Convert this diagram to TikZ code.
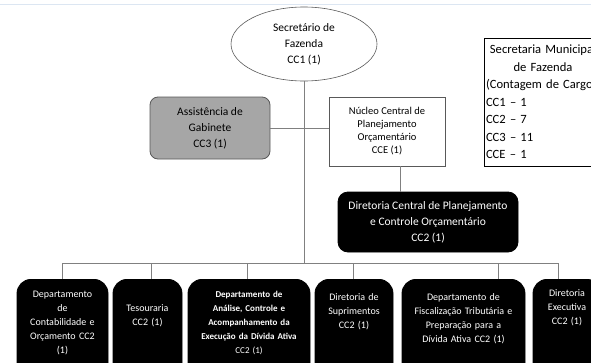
\documentclass[tikz,border=0pt]{standalone}
\usepackage{fontspec}
\setmainfont{Carlito}
\definecolor{linegrey}{RGB}{128,128,128}
\definecolor{boxgrey}{RGB}{166,166,166}
\definecolor{edgegrey}{RGB}{89,89,89}
\definecolor{topblue}{RGB}{220,230,242}
\usetikzlibrary{shapes.geometric}
\tikzstyle{base}=[x=1pt, y=-1pt, line width=0.8pt]
\tikzstyle{wire}=[linegrey]
\tikzstyle{mainfont}=[font=\fontsize{11.5}{16}\selectfont]
\tikzstyle{greybox}=[mainfont, fill=boxgrey, draw=edgegrey, rounded corners=8pt, align=center, minimum width=120pt, minimum height=62pt]
\tikzstyle{plainbox}=[font=\fontsize{10.5}{13}\selectfont, draw=edgegrey, align=center, minimum width=116pt, minimum height=69pt]
\tikzstyle{darkbox}=[mainfont, fill=black, draw=black, text=white, rounded corners=10pt, align=center]
\tikzstyle{lowbox}=[darkbox, rounded corners=14pt, anchor=north, inner xsep=0pt, inner ysep=0pt, text depth=100pt, font=\fontsize{10}{13.8}\selectfont]
\tikzstyle{legendbox}=[draw=black, font=\fontsize{12.6}{17.5}\selectfont, text width=114pt, inner xsep=2pt, minimum height=128pt]

\begin{document}
\begin{tikzpicture}[base]
    \useasboundingbox (0,0) rectangle (591,362);
    \clip (0,0) rectangle (591,362);
    \draw [topblue] (0,4) -- (591,4);

    % top of the chart
    \node [ellipse, draw=edgegrey, line width=0.6pt, mainfont, align=center, inner sep=1pt,
        minimum width=146pt, minimum height=74pt] (sec) at (304,44) {Secretário de\\Fazenda\\CC1 (1)};
    \node [greybox] (ass) at (210,128) {Assistência de\\Gabinete\\CC3 (1)};
    \node [plainbox] (nuc) at (387,131.5) {Núcleo Central de\\Planejamento\\Orçamentário\\CCE (1)};
    \node [darkbox, minimum width=180pt, minimum height=60pt] (dir) at (428,222)
        {Diretoria Central de Planejamento\\e Controle Orçamentário\\CC2 (1)};
    \node [legendbox] (leg) at (543,102) {\centering Secretaria Municipal\\de Fazenda\par
        \raggedright \mbox{(Contagem de Cargos)}\\CC1 -- 1\\CC2 -- 7\\CC3 -- 11\\CCE -- 1};

    % bottom row
    \node [lowbox, text width=91pt, text height=18.5pt] (con) at (62.5,279)
        {Departamento\\de\\Contabilidade e\\Orçamento CC2\\(1)};
    \node [lowbox, text width=69pt, text height=32.5pt] (tes) at (147.5,279) {Tesouraria\\CC2 (1)};
    \node [lowbox, text width=122pt, text height=18.5pt, font=\fontsize{9}{14}\selectfont] (ana) at (249,279)
        {\textbf{Departamento de}\\\textbf{Análise, Controle e}\\\textbf{Acompanhamento da}\\\textbf{Execução da Dívida Ativa}\\CC2 (1)};
    \node [lowbox, text width=78pt, text height=21.5pt] (sup) at (354,279) {Diretoria de\\Suprimentos\\CC2 (1)};
    \node [lowbox, text width=123pt, text height=21.5pt] (fis) at (463.5,279)
        {Departamento de\\Fiscalização Tributária e\\Preparação para a\\Dívida Ativa CC2 (1)};
    \node [lowbox, text width=68pt, text height=17.5pt] (exe) at (567,279) {Diretoria\\Executiva\\CC2 (1)};

    % connectors
    \coordinate (busL) at (62,263);
    \coordinate (busR) at (558,263);
    \draw [wire] (sec.south) -- (sec.south |- busL);
    \draw [wire] (ass.east) -- (ass.east -| nuc.west);
    \draw [wire] ([xshift=13pt]nuc.south) -- ([xshift=13pt]nuc.south |- dir.north);
    \draw [wire] (busL) -- (busR);
    \foreach \n/\dx in {con/-0.5, tes/3.5, ana/-2, sup/-1, fis/34.5, exe/-9}
        \draw [wire] ([xshift=\dx pt]\n.north) -- ([xshift=\dx pt]\n.north |- busL);
\end{tikzpicture}
\end{document}
